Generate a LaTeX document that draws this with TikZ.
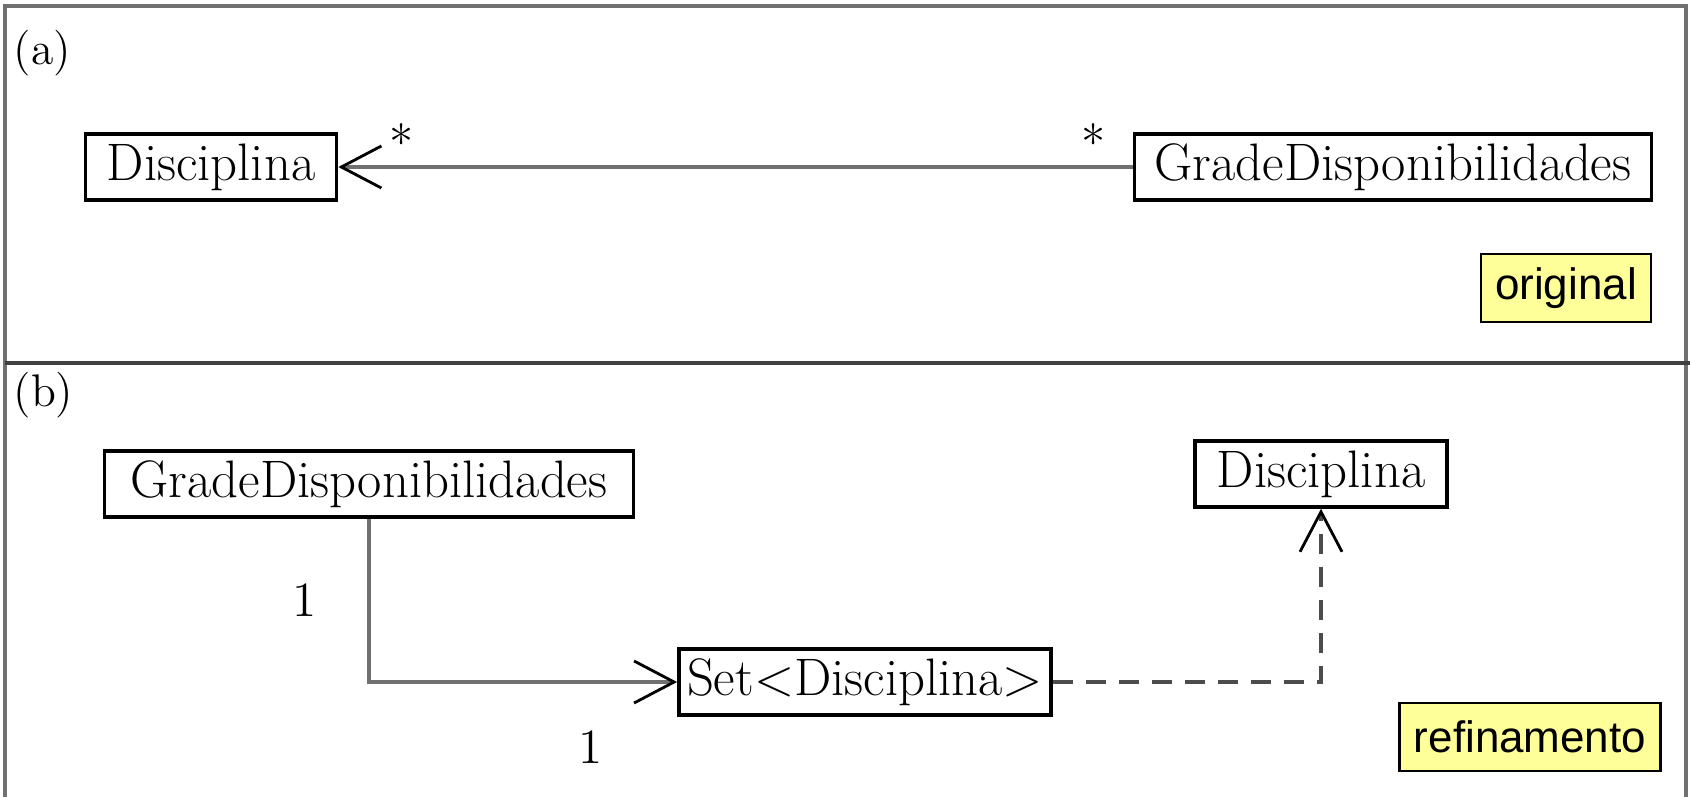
\documentclass[tikz,border=0pt]{standalone}
\usepackage{fontspec}
\newfontfamily\tagfont{Liberation Sans}
\usetikzlibrary{arrows.meta}
\definecolor{notebg}{HTML}{FFFF99}
\definecolor{linegray}{HTML}{707070}
\begin{document}
\begin{tikzpicture}[x=0.01cm, y=-0.01cm,
  classbox/.style={draw=black, line width=1pt, fill=white, inner xsep=2pt, inner ysep=0pt, minimum height=0.66cm, font=\fontsize{15}{17}\selectfont},
  tagbox/.style={draw=black, line width=0.8pt, fill=notebg, minimum height=0.68cm, inner xsep=4pt, font=\tagfont\fontsize{12.5}{15}\selectfont},
  mult/.style={inner sep=0pt, font=\fontsize{14}{16}\selectfont},
  assoc/.style={draw=linegray, line width=1.1pt, -{Straight Barb[length=0.4cm, width=0.42cm, line width=0.8pt, black]}},
  depend/.style={assoc, draw=black!70, dash pattern=on 0.2cm off 0.13cm}]
  \useasboundingbox (0,0) rectangle (1690,797);
  % frame
  \draw[linegray, line width=1.2pt] (5,797) -- (5,6) -- (1686,6) -- (1686,797);
  \draw[black!75, line width=1.2pt] (5,363) -- (1690,363);

  % (a) original
  \node[anchor=north west, inner sep=0pt, font=\fontsize{13}{15}\selectfont] (labA) at (13,30) {(a)};
  \node[classbox, minimum width=2.51cm] (discA) at (211,167) {Disciplina};
  \node[classbox, minimum width=5.17cm] (gradeA) at (1393,167) {GradeDisponibilidades};
  \draw[assoc] (gradeA) -- (discA);
  \node[mult] (multA1) at (402,142) {*};
  \node[mult] (multA2) at (1094,142) {*};
  \node[tagbox] (tagA) at (1566,288) {original};

  % (b) refinamento
  \node[anchor=north west, inner sep=0pt, font=\fontsize{13}{15}\selectfont] (labB) at (13,372) {(b)};
  \node[classbox, minimum width=5.29cm] (gradeB) at (369,484) {GradeDisponibilidades};
  \node[classbox, minimum width=3.72cm] (setB) at (865,682) {Set\textless Disciplina\textgreater};
  \node[classbox, minimum width=2.52cm] (discB) at (1321,474) {Disciplina};
  \draw[assoc] (gradeB.south) |- (setB.west);
  \draw[depend] (setB.east) -| (discB.south);
  \node[mult] (multB1) at (305,600) {1};
  \node[mult] (multB2) at (591,747) {1};
  \node[tagbox] (tagB) at (1530,737) {refinamento};
\end{tikzpicture}
\end{document}
